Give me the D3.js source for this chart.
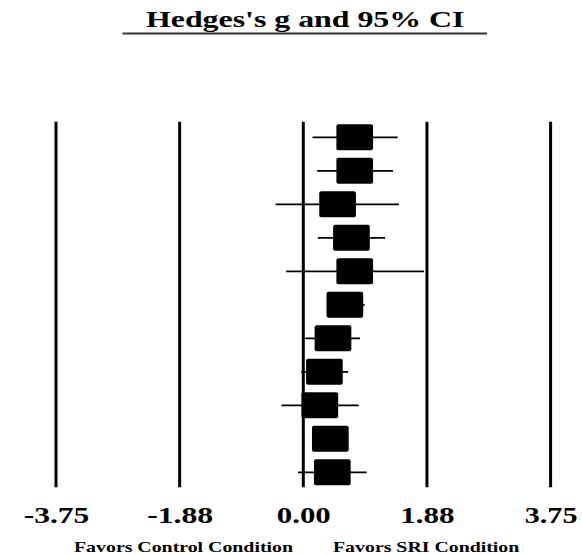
<!DOCTYPE html>
<html>
<head>
<meta charset="utf-8">
<script src="https://cdn.jsdelivr.net/npm/d3@7"></script>
<style>
  html, body { margin: 0; padding: 0; background: #fff; }
</style>
</head>
<body>
<div class="js-canvas"></div>
<script>
'use strict';

// studies, top to bottom
const studies = ['1', '2', '3', '4', '5', '6', '7', '8', '9', '10', '11'];
const effects = [0.78, 0.78, 0.52, 0.73, 0.78, 0.63, 0.45, 0.32, 0.25, 0.41, 0.44];
const lowers  = [0.14, 0.21, -0.42, 0.22, -0.26, 0.40, 0.03, -0.03, -0.33, 0.18, -0.08];
const uppers  = [1.43, 1.36, 1.45, 1.24, 1.83, 0.93, 0.86, 0.68, 0.84, 0.64, 0.96];

const tickValues = [-3.75, -1.875, 0, 1.875, 3.75];
const tickLabels = ['-3.75', '-1.88', '0.00', '1.88', '3.75'];

const titleText = "Hedges's g and 95% CI";
const leftNote = 'Favors Control Condition';
const rightNote = 'Favors SRI Condition';

const FONT = "'Liberation Serif', 'Times New Roman', serif";

const config = {
    width: 582,
    height: 555,
    lineTop: 121.7,
    lineBottom: 487.3,
    box: { w: 36.7, h: 26 },
    // rendered text widths (the source image is stretched horizontally)
    tickWidths: [65.7, 66, 54, 54.3, 52.7]
};

const svg = d3.select('.js-canvas')
    .append('svg')
    .attr('width', config.width)
    .attr('height', config.height);

const x = d3.scaleLinear()
    .domain([-3.75, 3.75])
    .range([56.0, 550.6]);

const y = d3.scalePoint()
    .domain(studies)
    .range([137.3, 472.3]);

// helper for the stretched bold serif labels
const label = (sel, txt, px, py, size, len) => sel.append('text')
    .attr('x', px)
    .attr('y', py)
    .attr('font-family', FONT)
    .attr('font-weight', 'bold')
    .attr('font-size', size)
    .attr('textLength', len)
    .attr('lengthAdjust', 'spacingAndGlyphs')
    .attr('fill', '#000')
    .text(txt);

// title + underline
label(svg, titleText, 146, 26.7, 24, 318.5);

svg.append('line')
    .attr('x1', 122.5).attr('x2', 487)
    .attr('y1', 33.5).attr('y2', 33.5)
    .attr('stroke', '#333')
    .attr('stroke-width', 1.8);

// vertical reference lines at tick values
svg.append('g')
    .selectAll('line')
    .data(tickValues)
    .enter().append('line')
    .attr('x1', d => x(d)).attr('x2', d => x(d))
    .attr('y1', config.lineTop).attr('y2', config.lineBottom)
    .attr('stroke', '#000')
    .attr('stroke-width', 3);

// axis labels
const xAxis = d3.axisBottom(x)
    .tickValues(tickValues)
    .tickFormat((d, i) => tickLabels[i])
    .tickSize(0);

const xAxisGroup = svg.append('g')
    .call(xAxis)
    .attr('font-family', FONT)
    .attr('font-weight', 'bold')
    .attr('font-size', 22.5);

xAxisGroup.select('.domain').remove();
xAxisGroup.selectAll('text')
    .attr('y', 522.7)
    .attr('dy', 0)
    .attr('x', (d, i) => -config.tickWidths[i] / 2)
    .attr('text-anchor', 'start')
    .attr('textLength', (d, i) => config.tickWidths[i])
    .attr('lengthAdjust', 'spacingAndGlyphs')
    .attr('fill', '#000');

// confidence intervals
const rows = studies.map((s, i) => ({ s, g: effects[i], lo: lowers[i], hi: uppers[i] }));

const plot = svg.append('g');

plot.selectAll('line.ci')
    .data(rows)
    .enter().append('line')
    .attr('class', 'ci')
    .attr('x1', d => x(d.lo)).attr('x2', d => x(d.hi))
    .attr('y1', d => y(d.s)).attr('y2', d => y(d.s))
    .attr('stroke', '#000')
    .attr('stroke-width', 1.8);

plot.selectAll('rect')
    .data(rows)
    .enter().append('rect')
    .attr('x', d => x(d.g) - config.box.w / 2)
    .attr('y', d => y(d.s) - config.box.h / 2)
    .attr('width', config.box.w)
    .attr('height', config.box.h)
    .attr('rx', 2)
    .attr('fill', '#000');

// footer notes
label(svg, leftNote, 74, 552, 15, 219);
label(svg, rightNote, 333, 552, 15, 186.3);
</script>
</body>
</html>
